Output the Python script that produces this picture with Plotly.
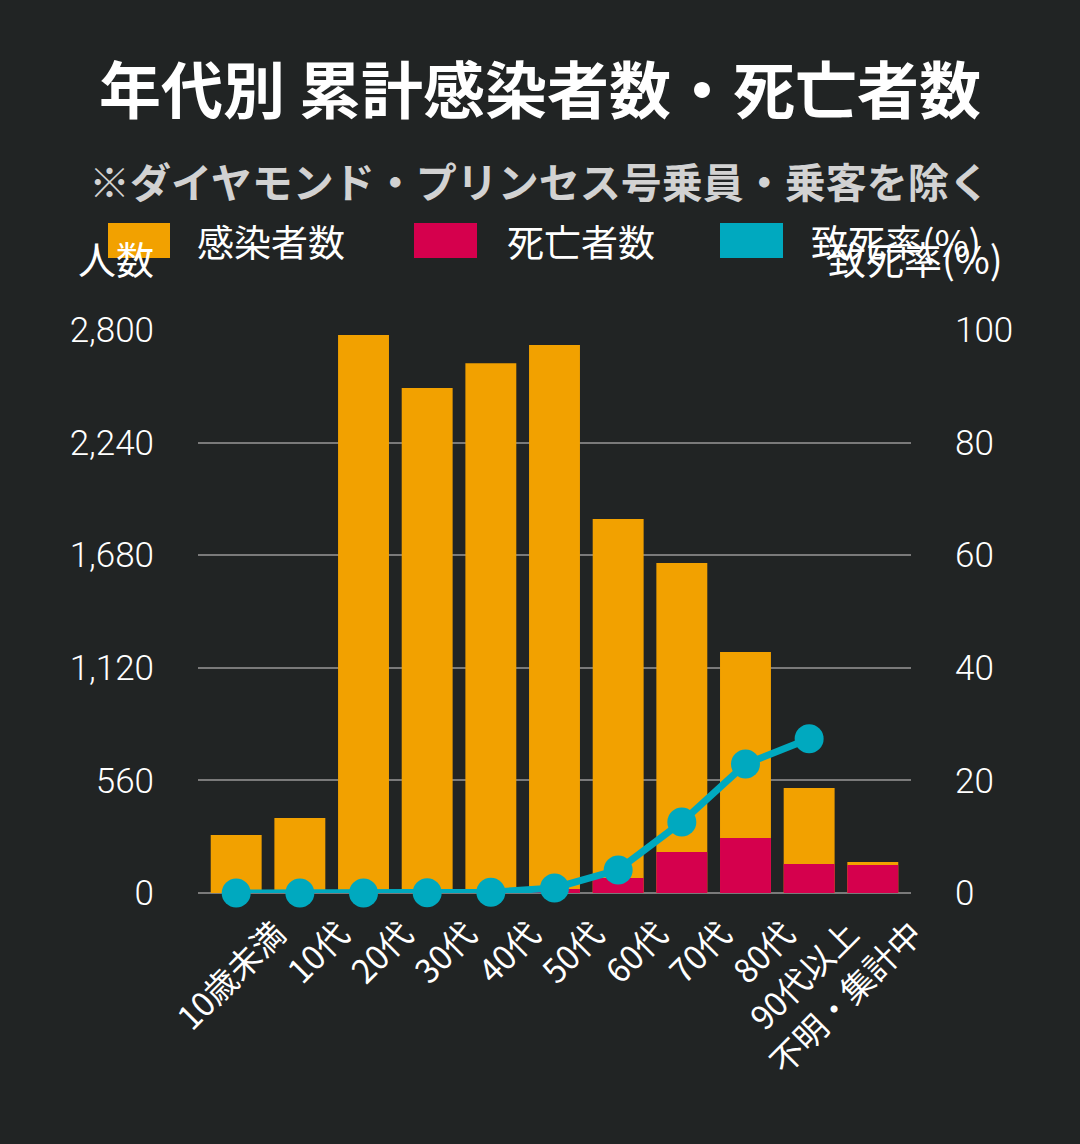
import plotly.graph_objects as go

categories = ["10歳未満", "10代", "20代", "30代", "40代", "50代", "60代", "70代", "80代", "90代以上", "不明・集計中"]
infected = [288, 373, 2775, 2511, 2635, 2725, 1860, 1641, 1198, 522, 154]
deaths = [0, 0, 0, 1, 3, 20, 75, 204, 273, 144, 139]
fatality = [0.0, 0.0, 0.02, 0.05, 0.15, 0.9, 4.1, 12.6, 22.9, 27.4]
series_names = ["感染者数", "死亡者数", "致死率(%)"]
left_ticks = [0, 560, 1120, 1680, 2240, 2800]
right_ticks = [0, 20, 40, 60, 80, 100]

ORANGE = "#F2A100"
RED = "#D5004D"
TEAL = "#00A9BF"
BG = "#212424"
GRID = "#7a7a7a"
FONT = "Noto Sans CJK JP"

fig = go.Figure()
fig.add_trace(go.Bar(x=categories, y=infected, name=series_names[0], marker_color=ORANGE,
                     marker_line_width=0))
fig.add_trace(go.Bar(x=categories, y=deaths, name=series_names[1], marker_color=RED,
                     marker_line_width=0))
fig.add_trace(go.Scatter(x=categories[:len(fatality)], y=fatality, name=series_names[2], yaxis="y2",
                         mode="lines+markers", line=dict(color=TEAL, width=7),
                         marker=dict(color=TEAL, size=29), cliponaxis=False))

W, H = 1080, 1144
L, R, T, B = 198, 169, 330, 251
pw, ph = W - L - R, H - T - B

def px(x):
    return (x - L) / pw

def py(y):
    return (H - B - y) / ph

shapes = []
annotations = []

annotations.append(dict(text="人数", xref="paper", yref="paper", x=px(76), y=py(258),
                        xanchor="left", yanchor="middle", showarrow=False,
                        font=dict(family=FONT, size=38, color="white")))
annotations.append(dict(text="致死率(%)", xref="paper", yref="paper", x=px(826), y=py(258),
                        xanchor="left", yanchor="middle", showarrow=False,
                        font=dict(family=FONT, size=38, color="white")))

legend_items = [(108, 170, 195, ORANGE), (414, 477, 505, RED), (720, 783, 809, TEAL)]
for (x0, x1, tx, col), name in zip(legend_items, series_names):
    shapes.append(dict(type="rect", xref="paper", yref="paper", x0=px(x0), x1=px(x1),
                       y0=py(258), y1=py(223), fillcolor=col, line_width=0, layer="above"))
    annotations.append(dict(text=name, xref="paper", yref="paper", x=px(tx), y=py(241),
                            xanchor="left", yanchor="middle", showarrow=False,
                            font=dict(family=FONT, size=37, color="white")))

annotations.append(dict(text="<b>※ダイヤモンド・プリンセス号乗員・乗客を除く</b>", xref="paper", yref="paper",
                        x=px(539), y=py(180), xanchor="center", yanchor="middle", showarrow=False,
                        font=dict(family=FONT, size=41, color="#d2d2d2")))

fig.update_layout(
    width=W, height=H,
    paper_bgcolor=BG, plot_bgcolor=BG,
    margin=dict(l=L, r=R, t=T, b=B, autoexpand=False),
    barmode="overlay", bargap=0.2,
    showlegend=False,
    title=dict(text="<b>年代別 累計感染者数・死亡者数</b>", x=0.5, xanchor="center",
               xref="container", y=1 - 92 / H, yref="container", yanchor="middle",
               font=dict(family=FONT, size=62, color="white")),
    xaxis=dict(range=[-0.6, 10.6], tickangle=-45, tickfont=dict(family=FONT, size=33, color="white"),
               showgrid=False, ticks="", ticklabelshift=40, ticklabelstandoff=14),
    yaxis=dict(range=[0, 2800], tickvals=left_ticks, tickformat=",",
               tickfont=dict(family="Roboto", size=35, color="white", weight=300),
               showgrid=True, gridcolor=GRID, gridwidth=2, zeroline=True, zerolinecolor=GRID,
               zerolinewidth=2, ticks="outside", ticklen=36, tickcolor="rgba(0,0,0,0)"),
    yaxis2=dict(range=[0, 100], tickvals=right_ticks, overlaying="y", side="right",
                tickfont=dict(family="Roboto", size=35, color="white", weight=300),
                showgrid=False, zeroline=False, ticks="outside", ticklen=36,
                tickcolor="rgba(0,0,0,0)"),
    shapes=shapes,
    annotations=annotations,
)

fig.write_html("out.html", config={"displayModeBar": False},
               post_script="document.body.style.margin='0';"
                           "document.documentElement.style.background='#212424';"
                           "document.body.style.background='#212424';")
